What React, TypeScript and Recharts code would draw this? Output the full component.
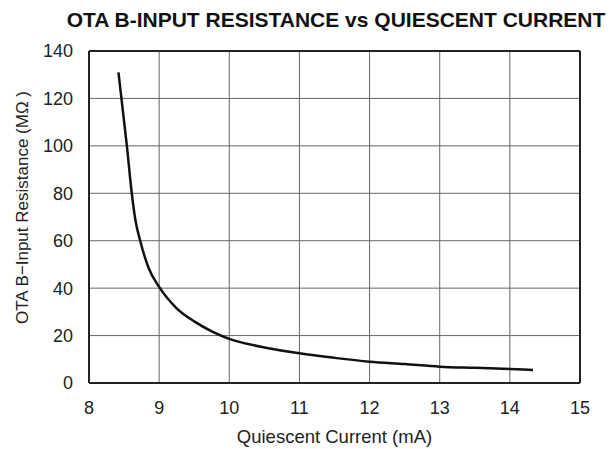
import React from 'react';
import { LineChart, Line, XAxis, YAxis, CartesianGrid, ReferenceLine } from 'recharts';

const currentMA = [8.42, 8.54, 8.61, 8.66, 8.73, 8.85, 9.0, 9.25, 9.5, 9.75, 10.0, 10.3, 10.5, 11.0, 11.5, 12.0, 12.5, 13.0, 13.5, 14.0, 14.33];
const resistanceMOhm = [131, 100, 80, 69, 60, 48.5, 40.5, 31.5, 26, 21.8, 18.6, 16.2, 15.0, 12.5, 10.6, 9.0, 8.0, 6.9, 6.4, 5.9, 5.5];
const xTicks = [8, 9, 10, 11, 12, 13, 14, 15];
const yTicks = [0, 20, 40, 60, 80, 100, 120, 140];

const titleText = 'OTA B-INPUT RESISTANCE vs QUIESCENT CURRENT';
const xLabelText = 'Quiescent Current (mA)';
const yLabelText = 'OTA B\u2212Input Resistance (M\u03A9 )';

const data = currentMA.map((x, i) => ({ x, y: resistanceMOhm[i] }));

const font = 'Liberation Sans, Arial, sans-serif';

const YLabel = (props: any) => {
  const vb = props.viewBox || { x: 0, y: 51, width: 89, height: 332 };
  const cx = vb.x + 22;
  const cy = vb.y + vb.height / 2 - 9.5;
  return (
    <text
      x={cx}
      y={cy}
      dy="0.355em"
      transform={`rotate(-90, ${cx}, ${cy})`}
      textAnchor="middle"
      fill="#222"
      fontSize={17}
      fontFamily={font}
    >
      {yLabelText}
    </text>
  );
};

export default function App() {
  return (
    <div style={{ position: 'absolute', left: 0, top: 0, width: 609, height: 449, background: '#fff' }}>
      <div
        style={{
          position: 'absolute',
          left: 36,
          width: 600,
          top: 9,
          lineHeight: '21px',
          textAlign: 'center',
          fontFamily: font,
          fontWeight: 'bold',
          fontSize: 21,
          color: '#111',
          whiteSpace: 'nowrap',
        }}
      >
        {titleText}
      </div>
      <LineChart width={609} height={449} data={data} margin={{ top: 51, right: 29, bottom: 0, left: 0 }}>
        <CartesianGrid stroke="#666" strokeWidth={1} />
        <XAxis
          dataKey="x"
          type="number"
          domain={[8, 15]}
          ticks={xTicks}
          height={66}
          axisLine={{ stroke: '#222', strokeWidth: 2 }}
          tickLine={false}
          tickSize={6}
          tickMargin={12}
          tick={{ fill: '#222', fontSize: 18, fontFamily: font }}
          label={{ value: xLabelText, position: 'insideBottom', offset: 6, style: { fill: '#222', fontSize: 18.5, fontFamily: font } }}
        />
        <YAxis
          type="number"
          domain={[0, 140]}
          ticks={yTicks}
          width={89}
          axisLine={{ stroke: '#222', strokeWidth: 2 }}
          tickLine={false}
          tickSize={6}
          tickMargin={10}
          tick={{ fill: '#222', fontSize: 18, fontFamily: font }}
          label={{ content: (p: any) => <YLabel {...p} /> }}
        />
        <ReferenceLine x={15} stroke="#222" strokeWidth={2} />
        <ReferenceLine y={140} stroke="#222" strokeWidth={2} />
        <Line type="monotone" dataKey="y" stroke="#111" strokeWidth={2.5} dot={false} isAnimationActive={false} />
      </LineChart>
    </div>
  );
}
